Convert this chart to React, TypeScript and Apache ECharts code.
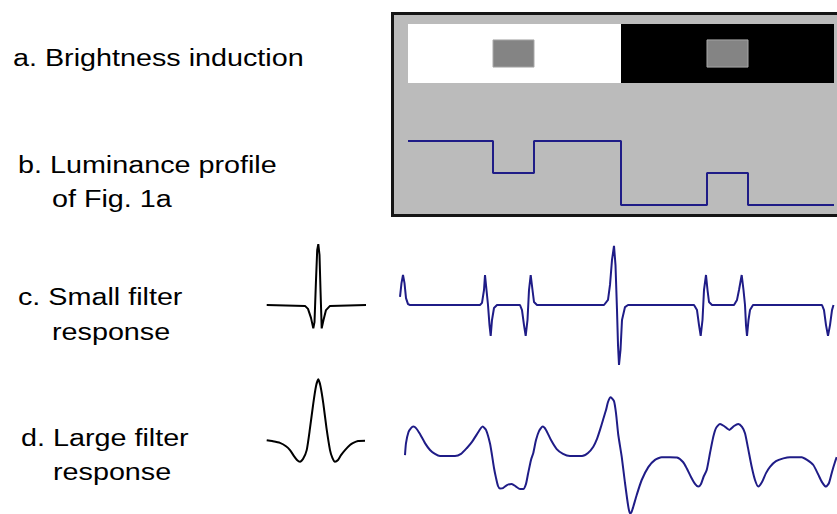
import React, { useEffect, useRef } from "react";
import * as echarts from "echarts";

// Stimulus (Fig. 1a): edges along the horizontal position axis (0..426)
const edges = [0, 85, 126, 213, 299, 340, 426];
// luminance of each segment between consecutive edges
const luminance = [1, 0.5, 1, 0, 0.5, 0];
// surround regions [x0, x1, lum] and test patches [x0, x1, lum]
const surrounds = [
  [0, 213, 1],
  [213, 426, 0],
];
const patches = [
  [85, 126, 0.5],
  [299, 340, 0.5],
];
const patchBand = [0.27, 0.73];

// c. small filter response [position, response]
const smallResponse = [
  [-8, 0.27], [-6.5, 0.73], [-5, 1.0], [-3.5, 0.73], [-2, 0.23], [0, 0.03], [2, 0],
  [72, 0], [74, 0.07], [76, 0.5], [77, 1.0], [78.5, 0.5], [80, 0], [81.5, -0.67],
  [82.7, -1.03], [84, -0.5], [86, -0.1], [89, 0],
  [112, 0], [114, -0.17], [116, -0.67], [117.7, -1.03], [119.5, -0.5], [121, 0.5],
  [122.7, 1.0], [124.5, 0.5], [126, 0.1], [129, 0],
  [196, 0], [200, 0.17], [202, 0.67], [204, 1.5], [206, 1.97], [207.5, 1.33],
  [209, -0.17], [210, -1.33], [211, -2.0], [212.5, -1.5], [214, -0.5], [217, -0.07], [220, 0],
  [286, 0], [289, -0.17], [291, -0.67], [292.7, -1.03], [294.5, -0.5], [296, 0.5],
  [298, 1.0], [299.5, 0.5], [301, 0.1], [304, 0],
  [326, 0], [329, 0.17], [331, 0.5], [333.7, 1.0], [335.5, 0.5], [337, 0], [338, -0.67],
  [339, -1.03], [340.5, -0.5], [342, -0.17], [345, 0],
  [414, 0], [416, -0.17], [418, -0.67], [420, -1.03], [422, -0.67], [424, -0.17], [425.5, 0],
];

// d. large filter response [position, response]
const largeResponse = [
  [-3, 0.03], [-2, 0.43], [0.5, 0.8], [3, 0.93], [5.3, 0.98], [8, 0.93], [12, 0.73],
  [17, 0.43], [22, 0.2], [27, 0.07], [32, 0], [47, 0], [53, 0.07], [58.7, 0.26],
  [64, 0.47], [69, 0.73], [74.7, 0.98], [78, 0.87], [82, 0.42], [84, 0.03], [86, -0.4],
  [88, -0.73], [90, -1.0], [92, -1.08], [95, -1.07], [99, -0.97], [103.7, -0.93],
  [108, -1.02], [112, -1.1], [115.3, -1.1], [118, -0.93], [120, -0.6], [123, -0.13],
  [125.3, 0.1], [128, 0.53], [131, 0.83], [134.7, 0.98], [138, 0.87], [143, 0.53],
  [148.7, 0.23], [155, 0.07], [162, 0], [174, 0], [180, 0.1], [185.3, 0.31], [189, 0.57],
  [192, 0.87], [195, 1.2], [198, 1.53], [200, 1.8], [202.7, 1.96], [206, 1.83],
  [208, 1.43], [210.3, 0.7], [213.7, -0.02], [217, -0.9], [220.3, -1.69], [222, -1.91],
  [223.5, -1.87], [225.3, -1.69], [228.7, -1.3], [233.7, -0.8], [240.3, -0.37],
  [247, -0.13], [253.7, -0.04], [262, -0.04], [269, -0.05], [275, -0.2], [278.7, -0.41],
  [283, -0.7], [287, -0.93], [290.3, -1.02], [293, -0.93], [295.5, -0.7], [298.7, -0.47],
  [302, 0.1], [305.3, 0.64], [308, 0.93], [312, 1.07], [316, 1.0], [321.3, 0.87],
  [326, 1.0], [330.3, 1.07], [334, 0.97], [337, 0.76], [340, 0.27], [343.7, -0.36],
  [347, -0.8], [350.3, -1.02], [354, -0.87], [358, -0.57], [362, -0.36], [368, -0.17],
  [375.3, -0.08], [382, -0.04], [393.7, -0.04], [399, -0.13], [405.3, -0.3], [410, -0.6],
  [414, -0.87], [418, -1.02], [421, -0.9], [424, -0.53], [427, -0.2], [428.7, -0.04],
];

// small filter kernel [offset, weight]
const smallKernel = [
  [-51.3, 0], [-13, -0.03], [-10, -0.13], [-7, -0.43], [-4.7, -0.78], [-3.5, -0.57],
  [-2, 0.83], [-0.8, 1.83], [0.3, 2.03], [1.5, 1.67], [2.5, 0.5], [3.7, -0.78],
  [5.5, -0.5], [8, -0.17], [12, -0.03], [48, 0],
];

// large filter kernel [offset, weight]
const largeKernel = [
  [-51.3, 0.53], [-46, 0.5], [-38, 0.44], [-32, 0.33], [-28, 0.2], [-24, 0],
  [-21, -0.13], [-18, -0.19], [-15, -0.1], [-11.3, 0.2], [-8, 0.93], [-4.7, 1.76],
  [-2, 2.33], [0.3, 2.56], [2.5, 2.33], [5.3, 1.76], [8.5, 0.93], [12, 0.2],
  [14.5, -0.07], [17, -0.19], [20, -0.13], [23, 0.03], [27, 0.2], [32, 0.37],
  [35.3, 0.44], [40, 0.5], [47, 0.51],
];

const labels = [
  { text: "a. Brightness induction", x: 13, base: 66.5 },
  { text: "b. Luminance profile", x: 18, base: 173 },
  { text: "of Fig. 1a", x: 52, base: 207 },
  { text: "c. Small filter", x: 18, base: 305 },
  { text: "response", x: 52, base: 340 },
  { text: "d. Large filter", x: 21, base: 446 },
  { text: "response", x: 53, base: 480 },
];

const BLUE = "#1f1c87";
const grayFor = (l: number) => (l >= 1 ? "#ffffff" : l <= 0 ? "#000000" : "#848484");

export default function App() {
  const ref = useRef<HTMLDivElement>(null);
  useEffect(() => {
    if (!ref.current) return;
    const chart = echarts.init(ref.current, undefined, { renderer: "svg" });

    const profile = edges.map((e, i) => [e, i < luminance.length ? luminance[i] : luminance[luminance.length - 1]]);
    const stimRects = [
      ...surrounds.map((s) => [s[0], s[1], 0, 1, s[2]]),
      ...patches.map((p) => [p[0], p[1], patchBand[0], patchBand[1], p[2]]),
    ];

    const hidden = { show: false };
    const font = 23;
    chart.setOption({
      animation: false,
      backgroundColor: "#ffffff",
      grid: [
        { left: 408, top: 24, width: 426, height: 59 },
        { left: 408, top: 141, width: 426, height: 64 },
        { left: 390, top: 245, width: 447, height: 120 },
        { left: 390, top: 396, width: 447, height: 117 },
        { left: 262, top: 245, width: 110, height: 120 },
        { left: 262, top: 376, width: 110, height: 90 },
      ],
      xAxis: [
        { type: "value", gridIndex: 0, min: 0, max: 426, ...hidden },
        { type: "value", gridIndex: 1, min: 0, max: 426, ...hidden },
        { type: "value", gridIndex: 2, min: -18, max: 429, ...hidden },
        { type: "value", gridIndex: 3, min: -18, max: 429, ...hidden },
        { type: "value", gridIndex: 4, min: -56, max: 54, ...hidden },
        { type: "value", gridIndex: 5, min: -56, max: 54, ...hidden },
      ],
      yAxis: [
        { type: "value", gridIndex: 0, min: 0, max: 1, inverse: true, ...hidden },
        { type: "value", gridIndex: 1, min: 0, max: 1, ...hidden },
        { type: "value", gridIndex: 2, min: -2, max: 2, ...hidden },
        { type: "value", gridIndex: 3, min: -1.9, max: 2, ...hidden },
        { type: "value", gridIndex: 4, min: -2, max: 2, ...hidden },
        { type: "value", gridIndex: 5, min: -0.33, max: 2.67, ...hidden },
      ],
      graphic: [
        {
          type: "rect",
          z: 0,
          shape: { x: 392.5, y: 13.5, width: 450, height: 202 },
          style: { fill: "#bbbbbb", stroke: "#151515", lineWidth: 3 },
        },
        ...labels.map((l) => ({
          type: "text",
          z: 10,
          x: l.x,
          y: l.base - 8,
          scaleX: 1.25,
          style: {
            text: l.text,
            fill: "#000",
            fontSize: font,
            fontFamily: '"Liberation Sans", Arial, sans-serif',
            textAlign: "left",
            textVerticalAlign: "middle",
            align: "left",
            verticalAlign: "middle",
          },
        })),
      ],
      series: [
        {
          type: "custom",
          xAxisIndex: 0,
          yAxisIndex: 0,
          data: stimRects,
          encode: { x: [0, 1], y: [2, 3] },
          renderItem: (params: any, api: any) => {
            const p0 = api.coord([api.value(0), api.value(2)]);
            const p1 = api.coord([api.value(1), api.value(3)]);
            const isPatch = params.dataIndex >= surrounds.length;
            return {
              type: "rect",
              shape: { x: p0[0], y: p0[1], width: p1[0] - p0[0], height: p1[1] - p0[1] },
              style: {
                fill: grayFor(api.value(4)),
                stroke: isPatch ? "#a9a9a9" : null,
                lineWidth: isPatch ? 1 : 0,
              },
            };
          },
        },
        {
          type: "line",
          xAxisIndex: 1,
          yAxisIndex: 1,
          data: profile,
          step: "end",
          symbol: "none",
          lineStyle: { color: BLUE, width: 2 },
        },
        {
          type: "line",
          xAxisIndex: 2,
          yAxisIndex: 2,
          data: smallResponse,
          symbol: "none",
          clip: false,
          lineStyle: { color: BLUE, width: 2 },
        },
        {
          type: "line",
          xAxisIndex: 3,
          yAxisIndex: 3,
          data: largeResponse,
          symbol: "none",
          clip: false,
          smooth: 0.2,
          lineStyle: { color: BLUE, width: 2 },
        },
        {
          type: "line",
          xAxisIndex: 4,
          yAxisIndex: 4,
          data: smallKernel,
          symbol: "none",
          clip: false,
          lineStyle: { color: "#000", width: 2 },
        },
        {
          type: "line",
          xAxisIndex: 5,
          yAxisIndex: 5,
          data: largeKernel,
          symbol: "none",
          clip: false,
          smooth: 0.2,
          lineStyle: { color: "#000", width: 2 },
        },
      ],
    });
    return () => chart.dispose();
  }, []);
  return (
    <div
      ref={ref}
      style={{ position: "fixed", left: 0, top: 0, width: 837, height: 514, background: "#fff" }}
    />
  );
}
